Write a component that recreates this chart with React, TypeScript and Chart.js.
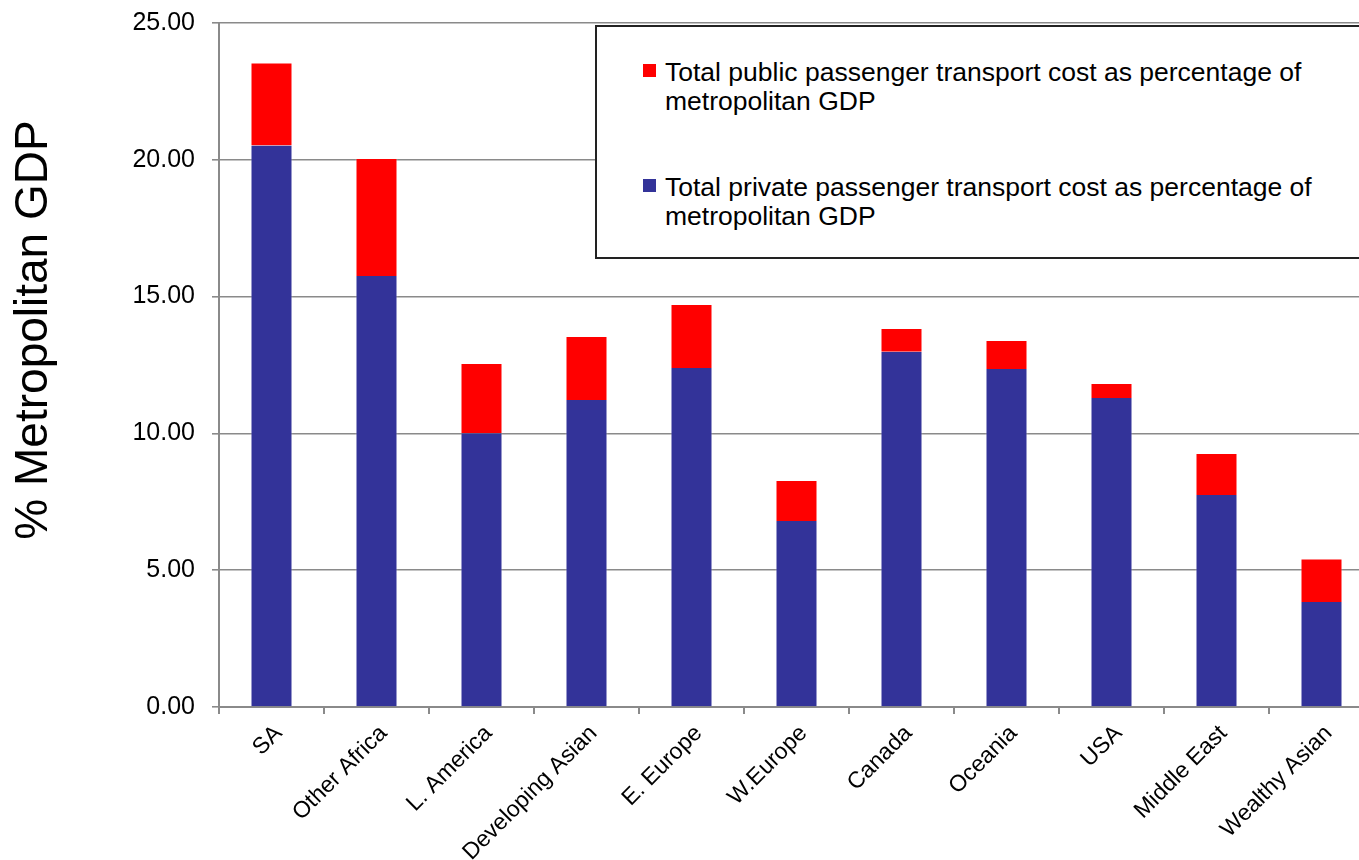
import React, { useEffect, useRef } from "react";
import { Chart, registerables } from "chart.js";

Chart.register(...registerables);

const categories = [
  "SA",
  "Other Africa",
  "L. America",
  "Developing Asian",
  "E. Europe",
  "W.Europe",
  "Canada",
  "Oceania",
  "USA",
  "Middle East",
  "Wealthy Asian",
];
const privateCost = [20.52, 15.75, 10.01, 11.22, 12.39, 6.8, 12.98, 12.35, 11.29, 7.75, 3.84];
const publicCost = [3.04, 4.32, 2.56, 2.34, 2.34, 1.5, 0.87, 1.06, 0.55, 1.53, 1.59];
const yTicks = [0, 5, 10, 15, 20, 25];

const publicLines = ["Total public passenger transport cost as percentage of", "metropolitan GDP"];
const privateLines = ["Total private passenger transport cost as percentage of", "metropolitan GDP"];
const yTitle = "% Metropolitan GDP";

const BLUE = "#333399";
const RED = "#FF0000";
const FONT = '"Liberation Sans", Arial, Helvetica, sans-serif';

const legendItems = [
  { lines: publicLines, color: RED },
  { lines: privateLines, color: BLUE },
];

const yTitlePlugin = {
  id: "yTitleCustom",
  afterDraw(chart: any) {
    const { ctx, chartArea } = chart;
    ctx.save();
    ctx.font = `46px ${FONT}`;
    ctx.fillStyle = "#000";
    ctx.textAlign = "center";
    ctx.textBaseline = "middle";
    ctx.translate(34, (chartArea.top + chartArea.bottom) / 2 - 35);
    ctx.rotate(-Math.PI / 2);
    ctx.fillText(yTitle, 0, 0);
    ctx.restore();
  },
};

export default function App() {
  const canvasRef = useRef<HTMLCanvasElement | null>(null);

  useEffect(() => {
    document.body.style.margin = "0";
    const canvas = canvasRef.current;
    if (!canvas) return;
    const chart = new Chart(canvas, {
      type: "bar",
      data: {
        labels: categories,
        datasets: [
          {
            label: privateLines.join(" "),
            data: privateCost,
            backgroundColor: BLUE,
            borderColor: "rgba(255,255,255,0.4)",
            borderWidth: { left: 1, right: 1, top: 0, bottom: 0 },
            barPercentage: 0.4,
            categoryPercentage: 1,
          },
          {
            label: publicLines.join(" "),
            data: publicCost,
            backgroundColor: RED,
            borderColor: "rgba(255,255,255,0.4)",
            borderWidth: { left: 1, right: 1, top: 1, bottom: 0 },
            barPercentage: 0.4,
            categoryPercentage: 1,
          },
        ],
      },
      options: {
        responsive: false,
        animation: false,
        devicePixelRatio: 1,
        layout: { padding: { top: 23, right: 0, left: 0, bottom: 0 } },
        plugins: {
          legend: { display: false },
          tooltip: { enabled: false },
          title: { display: false },
        },
        scales: {
          x: {
            stacked: true,
            grid: {
              offset: true,
              drawOnChartArea: false,
              drawTicks: true,
              tickLength: 7,
              color: "#8a8a8a",
              lineWidth: 2,
            },
            border: { display: true, color: "#8a8a8a", width: 2 },
            ticks: {
              color: "#000",
              font: { family: FONT, size: 23 },
              maxRotation: 45,
              minRotation: 45,
              autoSkip: false,
              padding: 6,
              labelOffset: 7,
            },
            afterFit(scale: any) {
              scale.height = 153;
              scale.paddingLeft = 0;
              scale.paddingRight = 0;
            },
          },
          y: {
            stacked: true,
            min: 0,
            max: 25,
            afterBuildTicks(scale: any) {
              scale.ticks = yTicks.map((v) => ({ value: v }));
            },
            grid: {
              color: "#8a8a8a",
              lineWidth: 1.6,
              tickLength: 7,
              drawTicks: true,
            },
            border: { display: true, color: "#8a8a8a", width: 2 },
            ticks: {
              color: "#000",
              font: { family: FONT, size: 25 },
              padding: 17,
              callback: (v: any) => Number(v).toFixed(2),
            },
            afterFit(scale: any) {
              scale.width = 219;
              scale.paddingTop = 0;
              scale.paddingBottom = 0;
            },
          },
        },
      },
      plugins: [yTitlePlugin],
    });
    return () => chart.destroy();
  }, []);

  return (
    <div
      style={{
        position: "relative",
        width: 1359,
        height: 860,
        overflow: "hidden",
        background: "#fff",
        fontFamily: FONT,
      }}
    >
      <canvas ref={canvasRef} width={1374} height={860} style={{ display: "block", width: 1374, height: 860 }} />
      <div
        style={{
          position: "absolute",
          left: 595,
          top: 25,
          width: 800,
          height: 234,
          border: "2px solid #222",
          background: "#fff",
          boxSizing: "border-box",
        }}
      >
        {legendItems.map((item, i) => (
          <div
            key={i}
            style={{
              position: "absolute",
              left: 0,
              top: 30.5 + i * 115,
              width: 780,
            }}
          >
            <div
              style={{
                position: "absolute",
                left: 46,
                top: 6.5,
                width: 13,
                height: 13,
                background: item.color,
              }}
            />
            <div
              style={{
                position: "absolute",
                left: 68,
                top: 0,
                fontSize: 26.5,
                lineHeight: "29px",
                color: "#000",
                whiteSpace: "nowrap",
              }}
            >
              {item.lines.map((l, j) => (
                <div key={j}>{l}</div>
              ))}
            </div>
          </div>
        ))}
      </div>
    </div>
  );
}
